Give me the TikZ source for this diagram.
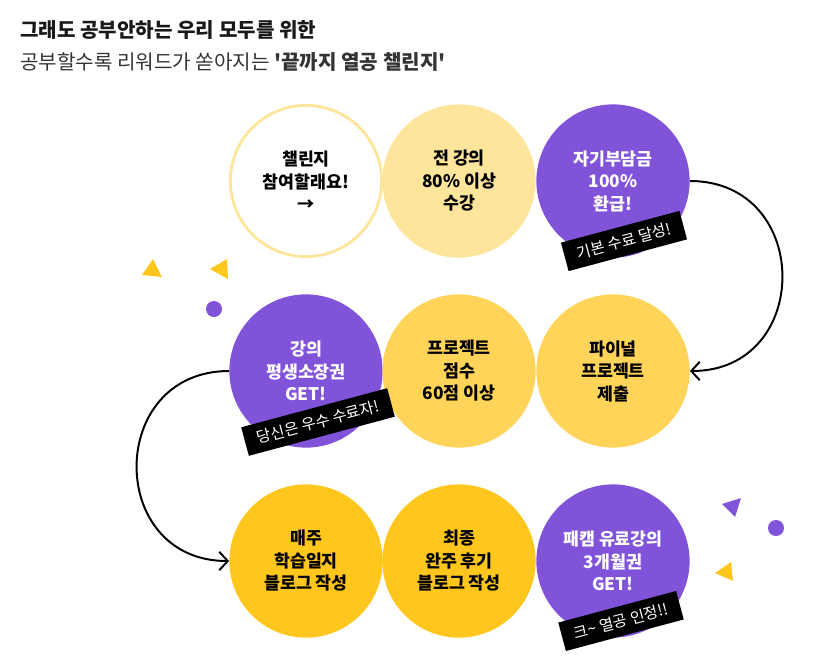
\documentclass[tikz,border=0pt]{standalone}
\usepackage{fontspec}
\setmainfont{Noto Sans CJK KR}
\usetikzlibrary{arrows.meta}
\definecolor{lightyellow}{HTML}{FFE59B}
\definecolor{midyellow}{HTML}{FFD459}
\definecolor{deepyellow}{HTML}{FFC61E}
\definecolor{pointpurple}{HTML}{8153D8}
\begin{document}
\begin{tikzpicture}[x=0.025cm,y=-0.025cm,
    stage/.style={circle,minimum size=3.83cm,inner sep=0pt,align=center,
        font=\fontsize{12.3}{16}\selectfont\bfseries},
    reward/.style={stage,fill=pointpurple,text=white},
    badge/.style={fill=black,text=white,rotate=15,inner xsep=9pt,inner ysep=5.5pt,
        font=\fontsize{11}{13}\selectfont},
    flow/.style={line width=1.4pt,-{Straight Barb[length=6pt,width=13pt,line width=1.4pt]}}]
            \useasboundingbox (0,0) rectangle (827,671);
            % title
            \node[anchor=west,inner sep=0pt,font=\fontsize{14.3}{16}\selectfont\bfseries,text=black!90] (T1) at (20,30) {그래도 공부안하는 우리 모두를 위한};
            \node[anchor=west,inner sep=0pt,font=\fontsize{14.3}{16}\selectfont,text=black!80] (T2) at (20,62) {공부할수록 리워드가 쏟아지는 \textbf{\textquotesingle 끝까지 열공 챌린지\textquotesingle}};
            % row 1
            \node[stage,fill=white,draw=lightyellow,line width=2pt,minimum size=3.78cm] (A) at (306,181) {챌린지\\참여할래요!\\→};
            \node[stage,fill=lightyellow] (B) at (459,181) {전 강의\\80\% 이상\\수강};
            \node[reward] (C) at (613,181) {자기부담금\\100\%\\환급!};
            % row 2
            \node[reward] (D) at (306,371) {강의\\평생소장권\\GET!};
            \node[stage,fill=midyellow] (E) at (459,371) {프로젝트\\점수\\60점 이상};
            \node[stage,fill=midyellow] (F) at (613,371) {파이널\\프로젝트\\제출};
            % row 3
            \node[stage,fill=deepyellow] (G) at (306,561) {매주\\학습일지\\블로그 작성};
            \node[stage,fill=deepyellow] (H) at (459,561) {최종\\완주 후기\\블로그 작성};
            \node[reward] (I) at (613,561) {패캠 유료강의\\3개월권\\GET!};
            % badges
            \node[badge] (C1) at (624,241) {기본 수료 달성!};
            \node[badge] (D1) at (318,422) {당신은 우수 수료자!};
            \node[badge] (I1) at (621,621) {크\textasciitilde{} 열공 인정!!};
            % connectors
            \draw[flow] (C.east) .. controls +(123,0) and +(123,0) .. (F.east);
            \draw[flow] (D.west) .. controls +(-123,0) and +(-123,0) .. (G.west);
            % confetti
            \fill[deepyellow] (142,275) -- (153,259) -- (162,277) -- cycle;
            \fill[deepyellow] (210,269) -- (227,259) -- (228,279) -- cycle;
            \fill[pointpurple] (214,309) circle (8);
            \fill[pointpurple] (722,504) -- (741,498) -- (735,517) -- cycle;
            \fill[pointpurple] (776,528) circle (8);
            \fill[deepyellow] (715,573) -- (731,562) -- (733,581) -- cycle;
            \end{tikzpicture}
\end{document}
